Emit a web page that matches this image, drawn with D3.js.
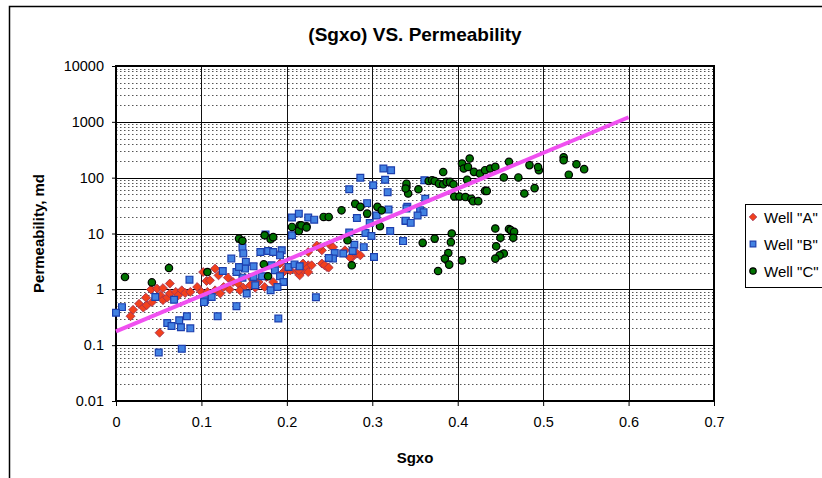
<!DOCTYPE html>
<html>
<head>
<meta charset="utf-8">
<script src="https://cdn.jsdelivr.net/npm/d3@7"></script>
<style>
body{margin:0;background:#fff;}
svg{display:block;font-family:Arial,"Liberation Sans",sans-serif;}
</style>
</head>
<body>
<div class="chart"></div>
<script>
// values: [Sgxo, permeability md]
const wellA = [[0.017,0.33],[0.020,0.43],[0.027,0.55],[0.032,0.47],[0.036,0.52],[0.042,0.59],[0.041,0.99],[0.048,1.03],
  [0.055,1.05],[0.052,0.78],[0.055,0.64],[0.060,0.71],[0.063,1.27],[0.063,0.84],[0.070,0.90],[0.073,0.78],[0.077,0.96],
  [0.081,0.86],[0.087,0.90],[0.095,1.10],[0.100,0.90],[0.106,1.41],[0.107,0.90],[0.035,0.71],[0.051,0.167],
  [0.102,2.04],[0.116,2.35],[0.120,1.78],[0.110,1.45],[0.116,0.96],[0.126,1.10],[0.133,0.99],[0.137,1.35],[0.131,1.62],
  [0.143,1.27],[0.149,1.07],[0.157,1.18],[0.167,1.35],[0.174,1.10],[0.163,1.07],[0.196,2.04],[0.204,2.19],[0.212,2.04],
  [0.219,2.19],[0.225,2.70],[0.215,1.78],[0.122,0.84],[0.159,1.55],[0.165,1.27],[0.176,1.66],[0.184,1.35],[0.194,1.9],
  [0.145,0.96],[0.225,4.65],[0.235,6.1],[0.241,5.0],[0.251,6.1],[0.254,5.7],[0.268,5.0],[0.282,4.37],[0.286,4.06],
  [0.276,3.7],[0.214,2.19],[0.223,2.5],[0.229,2.7],[0.225,2.04],[0.219,2.9],[0.241,2.9],[0.247,2.5],[0.192,2.9],
  [0.200,2.5],[0.238,5.7],[0.244,2.7],[0.249,2.45],[0.274,3.7]];

const wellB = [[0.086,1.49],[0.007,0.48],[0.000,0.38],[0.046,0.73],[0.068,0.65],[0.060,0.25],[0.065,0.22],[0.074,0.28],
  [0.083,0.33],[0.087,0.20],[0.076,0.21],[0.104,0.635],[0.050,0.074],[0.077,0.086],[0.119,0.33],[0.141,0.50],[0.190,0.30],
  [0.103,0.59],[0.206,19.3],[0.214,22.7],[0.175,9.6],[0.148,5.6],[0.149,4.4],[0.135,3.55],[0.152,3.1],[0.151,2.35],
  [0.161,2.58],[0.169,4.65],[0.178,4.86],[0.184,4.65],[0.194,5.0],[0.182,2.7],[0.186,2.19],[0.192,1.71],[0.196,1.35],
  [0.202,2.51],[0.209,2.8],[0.215,2.58],[0.125,2.13],[0.112,0.73],[0.153,0.84],[0.163,1.18],[0.181,0.96],[0.189,1.1],
  [0.171,1.71],[0.148,1.62],[0.161,1.66],[0.141,2.04],[0.144,2.51],[0.192,4.06],[0.206,9.3],[0.234,0.72],
  [0.286,100],[0.313,146],[0.322,136],[0.315,92],[0.301,73],[0.318,55],[0.273,62],[0.294,35],[0.319,26.8],[0.305,21],
  [0.282,19],[0.297,15.4],[0.341,30],[0.339,16.7],[0.321,11.1],[0.336,7.35],[0.292,10.2],[0.299,9.0],[0.273,10.4],
  [0.279,6.3],[0.290,5.7],[0.277,4.86],[0.266,4.37],[0.256,4.47],[0.254,3.55],[0.249,3.65],[0.302,3.8],[0.225,19.3],
  [0.232,17.7],[0.361,90],[0.362,42],[0.340,28],[0.356,26],[0.360,24],[0.353,21],[0.339,17],[0.345,15.5],[0.336,7.3]];

const wellC = [[0.0105,1.66],[0.062,2.41],[0.042,1.33],[0.107,2.04],[0.144,8.1],[0.148,7.4],[0.174,9.3],[0.181,7.9],
  [0.184,8.6],[0.173,2.8],[0.178,1.71],[0.206,13.1],[0.215,14.0],[0.223,13.5],[0.214,11.1],[0.264,26],[0.280,34],
  [0.286,30],[0.294,22.7],[0.306,30],[0.311,26],[0.309,13.5],[0.243,19.8],[0.249,19.8],[0.217,14],[0.223,12.8],
  [0.271,7.55],[0.276,2.7],[0.340,68],[0.342,52],[0.340,78],[0.339,64],[0.354,62],[0.366,87],[0.370,90],[0.373,87],
  [0.378,78],[0.383,76],[0.387,84],[0.391,84],[0.395,76],[0.383,126],[0.405,179],[0.407,146],[0.414,220],[0.412,156],
  [0.419,127],[0.426,118],[0.432,136],[0.438,146],[0.444,156],[0.411,92],[0.396,46],[0.402,46],[0.409,45],[0.416,42],
  [0.418,38],[0.424,38],[0.432,58],[0.434,58],[0.454,101],[0.460,192],[0.471,101],[0.484,168],[0.495,136],[0.478,52],
  [0.490,65],[0.524,232],[0.524,205],[0.539,174],[0.548,142],[0.530,113],[0.494,155],[0.444,12.3],[0.460,12],
  [0.462,11.5],[0.466,10.7],[0.450,8.4],[0.465,8.4],[0.445,5.9],[0.454,4.37],[0.449,4.06],[0.444,3.55],[0.393,10],
  [0.392,7.0],[0.373,8.1],[0.359,6.8],[0.389,4.47],[0.385,3.55],[0.390,2.77],[0.405,3.3],[0.377,2.13]];

// exponential trendline end points (straight on the log axis)
const trendX = [0, 0.6];
const trendY = [0.177, 1208];

const xTicks = [0, 0.1, 0.2, 0.3, 0.4, 0.5, 0.6, 0.7];
const yTicks = [0.01, 0.1, 1, 10, 100, 1000, 10000];
const yLabels = ["0.01", "0.1", "1", "10", "100", "1000", "10000"];
const seriesNames = ['Well "A"', 'Well "B"', 'Well "C"'];

let margin = {top: 66, left: 116};
let width = 598, height = 335;

let svg = d3.select('.chart').append('svg')
    .attr('width', 822)
    .attr('height', 478);

// chart area frame
svg.append('rect')
    .attr('x', 9.5).attr('y', 6.5)
    .attr('width', 900).attr('height', 600)
    .attr('fill', '#fff')
    .attr('stroke', '#000')
    .attr('stroke-width', 1.5);

svg.append('text')
    .attr('x', margin.left + width / 2)
    .attr('y', 41)
    .attr('text-anchor', 'middle')
    .attr('font-size', 19)
    .attr('font-weight', 'bold')
    .text('(Sgxo) VS. Permeability');

let g = svg.append('g')
    .attr('transform', `translate(${margin.left},${margin.top})`);

const xScale = d3.scaleLinear().domain([0, 0.7]).range([0, width]);
const yScale = d3.scaleLog().domain([0.01, 10000]).range([height, 0]);

// minor (dotted) gridlines at 2..9 of each decade
let minorTicks = yScale.ticks().filter(d => yTicks.indexOf(+d.toPrecision(6)) < 0);
g.selectAll('.minor')
    .data(minorTicks)
    .enter()
    .append('line')
    .attr('class', 'minor')
    .attr('x1', 0).attr('x2', width)
    .attr('y1', d => Math.round(yScale(d)) + 0.5)
    .attr('y2', d => Math.round(yScale(d)) + 0.5)
    .attr('stroke', '#555')
    .attr('stroke-dasharray', '1.5,2.5');

g.selectAll('.hmajor')
    .data(yTicks)
    .enter()
    .append('line')
    .attr('class', 'hmajor')
    .attr('x1', 0).attr('x2', width)
    .attr('y1', d => Math.round(yScale(d)) + 0.5)
    .attr('y2', d => Math.round(yScale(d)) + 0.5)
    .attr('stroke', '#000');

g.selectAll('.vmajor')
    .data(xTicks)
    .enter()
    .append('line')
    .attr('class', 'vmajor')
    .attr('y1', 0).attr('y2', height)
    .attr('x1', d => Math.round(xScale(d)) + 0.5)
    .attr('x2', d => Math.round(xScale(d)) + 0.5)
    .attr('stroke', '#111');

let xAxis = d3.axisBottom(xScale)
    .tickValues(xTicks)
    .tickFormat(d3.format('~g'))
    .tickSize(5)
    .tickPadding(11);

let yAxis = d3.axisLeft(yScale)
    .tickValues(yTicks)
    .tickFormat((d, i) => yLabels[i])
    .tickSize(4)
    .tickPadding(8);

g.append('g')
    .attr('class', 'axis x-axis')
    .attr('transform', `translate(0, ${height})`)
    .call(xAxis);

g.append('g')
    .attr('class', 'axis y-axis')
    .call(yAxis);

g.selectAll('.axis .domain').remove();
g.selectAll('.axis text')
    .attr('font-size', 14.5)
    .attr('font-family', 'Arial, "Liberation Sans", sans-serif')
    .attr('fill', '#000');
g.selectAll('.axis line').attr('stroke', '#000');

// plot border
g.append('rect')
    .attr('x', 0).attr('y', 0)
    .attr('width', width).attr('height', height)
    .attr('fill', 'none')
    .attr('stroke', '#000')
    .attr('stroke-width', 2);

let diamond = d3.symbol().type(d3.symbolSquare).size(40);
let square = d3.symbol().type(d3.symbolSquare).size(46);

g.selectAll('.ptA')
    .data(wellA)
    .enter()
    .append('path')
    .attr('class', 'ptA')
    .attr('d', diamond)
    .attr('transform', d => `translate(${xScale(d[0])},${yScale(d[1])}) rotate(45)`)
    .attr('fill', '#f2401c')
    .attr('stroke', '#a03050')
    .attr('stroke-width', 0.8);

g.selectAll('.ptB')
    .data(wellB)
    .enter()
    .append('path')
    .attr('class', 'ptB')
    .attr('d', square)
    .attr('transform', d => `translate(${xScale(d[0])},${yScale(d[1])})`)
    .attr('fill', '#4282e2')
    .attr('stroke', '#1c3fae')
    .attr('stroke-width', 1.2);

g.selectAll('.ptC')
    .data(wellC)
    .enter()
    .append('circle')
    .attr('class', 'ptC')
    .attr('cx', d => xScale(d[0]))
    .attr('cy', d => yScale(d[1]))
    .attr('r', 3.7)
    .attr('fill', '#007300')
    .attr('stroke', '#000')
    .attr('stroke-width', 1.2);

let trend = d3.line()
    .x(d => xScale(d[0]))
    .y(d => yScale(d[1]));

g.append('path')
    .datum(trendX.map((x, i) => [x, trendY[i]]))
    .attr('d', trend)
    .attr('fill', 'none')
    .attr('stroke', '#f050f0')
    .attr('stroke-width', 4);

svg.append('text')
    .attr('transform', `translate(44, ${margin.top + height / 2}) rotate(-90)`)
    .attr('text-anchor', 'middle')
    .attr('font-size', 15)
    .attr('font-weight', 'bold')
    .text('Permeability, md');

svg.append('text')
    .attr('x', margin.left + width / 2)
    .attr('y', 463)
    .attr('text-anchor', 'middle')
    .attr('font-size', 15)
    .attr('font-weight', 'bold')
    .text('Sgxo');

// legend
let legend = svg.append('g').attr('class', 'legend');
legend.append('rect')
    .attr('x', 745.5).attr('y', 204.5)
    .attr('width', 100).attr('height', 83)
    .attr('fill', '#fff')
    .attr('stroke', '#000');

let legendY = d3.scalePoint().domain(seriesNames).range([217, 271]);

legend.append('path')
    .attr('d', d3.symbol().type(d3.symbolSquare).size(28))
    .attr('transform', `translate(753,${legendY(seriesNames[0])}) rotate(45)`)
    .attr('fill', '#f2401c').attr('stroke', '#a03050').attr('stroke-width', 0.8);
legend.append('path')
    .attr('d', d3.symbol().type(d3.symbolSquare).size(32))
    .attr('transform', `translate(753,${legendY(seriesNames[1])})`)
    .attr('fill', '#4282e2').attr('stroke', '#1c3fae').attr('stroke-width', 1.2);
legend.append('circle')
    .attr('cx', 753).attr('cy', legendY(seriesNames[2])).attr('r', 3.2)
    .attr('fill', '#007300').attr('stroke', '#000').attr('stroke-width', 1.2);

legend.selectAll('.ltext')
    .data(seriesNames)
    .enter()
    .append('text')
    .attr('class', 'ltext')
    .attr('x', 764)
    .attr('y', d => legendY(d) + 5.5)
    .attr('font-size', 15)
    .text(d => d);
</script>
</body>
</html>
